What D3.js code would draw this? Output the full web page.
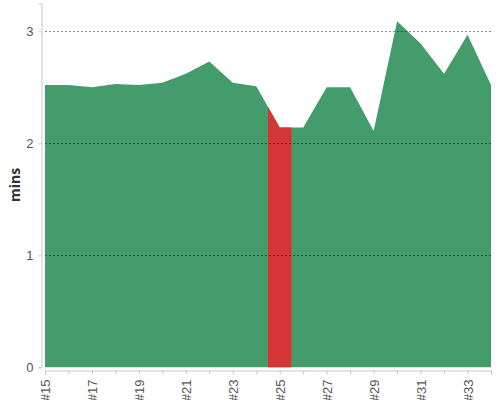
<!DOCTYPE html>
<html>
<head>
<meta charset="utf-8">
<script src="https://cdn.jsdelivr.net/npm/d3@7"></script>
<style>
  body { margin: 0; background: #fff; }
  svg { font-family: "Open Sans", sans-serif; }
</style>
</head>
<body>
<div id="chart"></div>
<script>
// build numbers #15 .. #34
var builds = [15, 16, 17, 18, 19, 20, 21, 22, 23, 24, 25, 26, 27, 28, 29, 30, 31, 32, 33, 34];
var mins = [2.52, 2.52, 2.50, 2.53, 2.52, 2.54, 2.62, 2.73, 2.54, 2.51, 2.14, 2.14, 2.50, 2.50, 2.11, 3.09, 2.89, 2.62, 2.97, 2.52];
var highlighted = 25;
var yTicks = [0, 1, 2, 3];

var width = 500, height = 400;
var plotLeft = 45, plotRight = 491, plotTop = 3.3, plotBottom = 367.3;

var data = builds.map(function (b, i) { return { build: b, value: mins[i] }; });

var x = d3.scaleLinear().domain([builds[0], builds[builds.length - 1]]).range([plotLeft, plotRight]);
var y = d3.scaleLinear().domain([0, 3.25]).range([plotBottom, plotTop]);

var svg = d3.select("#chart").append("svg")
  .attr("width", width)
  .attr("height", height);

var area = d3.area()
  .x(function (d) { return x(d.build); })
  .y0(y(0))
  .y1(function (d) { return y(d.value); });

// highlight band for the selected build
svg.append("defs").append("clipPath")
  .attr("id", "hl")
  .append("rect")
  .attr("x", x(highlighted - 0.5))
  .attr("width", x(highlighted + 0.5) - x(highlighted - 0.5))
  .attr("y", 0)
  .attr("height", height);

svg.append("path")
  .datum(data)
  .attr("d", area)
  .style("fill", "#449c6d");

svg.append("path")
  .datum(data)
  .attr("d", area)
  .attr("clip-path", "url(#hl)")
  .style("fill", "#d63535");

// dotted grid lines on top
svg.selectAll(".grid")
  .data(yTicks.filter(function (t) { return t > 0; }))
  .enter().append("line")
  .attr("class", "grid")
  .attr("x1", plotLeft).attr("x2", plotRight)
  .attr("y1", function (d) { return Math.round(y(d)) + 0.5; })
  .attr("y2", function (d) { return Math.round(y(d)) + 0.5; })
  .style("stroke", "rgba(0,0,0,0.45)")
  .style("stroke-dasharray", "2,2")
  .style("stroke-width", 1);

// y axis
var yAxis = svg.append("g")
  .attr("transform", "translate(41.5,0)")
  .call(d3.axisLeft(y).tickValues(yTicks).tickSize(3).tickPadding(5).tickFormat(d3.format("d")));

// x axis
var xAxis = svg.append("g")
  .attr("transform", "translate(0,370.5)")
  .call(d3.axisBottom(x).tickValues(builds).tickSize(4).tickFormat(function (d) {
    return d % 2 === 1 ? "#" + d : "";
  }));

xAxis.selectAll("text")
  .attr("transform", "rotate(-90)")
  .attr("x", -9)
  .attr("y", 0)
  .attr("dy", "0.35em")
  .style("text-anchor", "end");

[yAxis, xAxis].forEach(function (ax) {
  ax.select(".domain").style("stroke", "#c8c8c8");
  ax.selectAll(".tick line").style("stroke", "#c8c8c8");
  ax.selectAll("text").style("fill", "#555").style("font-size", "13px");
});

svg.append("text")
  .attr("transform", "translate(15,185) rotate(-90)")
  .attr("dy", "0.35em")
  .style("text-anchor", "middle")
  .style("font-weight", "bold")
  .style("font-size", "14px")
  .style("fill", "#333")
  .text("mins");
</script>
</body>
</html>
